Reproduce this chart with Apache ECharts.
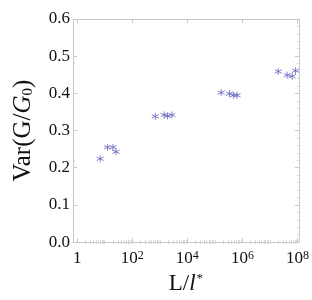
<!DOCTYPE html>
<html><head><meta charset="utf-8">
<script src="https://cdn.jsdelivr.net/npm/echarts@6/dist/echarts.min.js"></script>
<style>html,body{margin:0;padding:0;background:#fff}#c{width:312px;height:300px}</style>
</head><body><div id="c"></div>
<script>
// L / l* values (ratio) and Var(G/G0)
const lengthRatio = [6.9, 12.6, 20, 25.6, 690, 1450, 1920, 2770, 1.7e5, 3.4e5, 4.8e5, 6.4e5, 2.0e7, 4.2e7, 6.4e7, 8.5e7];
const variance = [0.224, 0.255, 0.255, 0.243, 0.338, 0.342, 0.339, 0.342, 0.402, 0.399, 0.395, 0.395, 0.459, 0.449, 0.446, 0.461];
const xTickExponents = [0, 2, 4, 6, 8];
const yTicks = [0.0, 0.1, 0.2, 0.3, 0.4, 0.5, 0.6];

const minorX = [];
for (let n = 0; n < 8; n++) for (let k = 2; k <= 9; k++) minorX.push(Math.log10(k * Math.pow(10, n)));
const oddX = [1, 3, 5, 7];

const font = 'Liberation Serif';
const axisColor = '#c8c8c8';
const minorColor = '#d8d8d8';
const data = lengthRatio.map((v, i) => [Math.log10(v), variance[i]]);
const star = 'path://M0,-5L0,5M-4.33,-2.5L4.33,2.5M-4.33,2.5L4.33,-2.5';

const baseX = {
  type: 'value', min: -0.15, max: 8.05, splitLine: {show: false},
  axisLine: {show: true, onZero: false, lineStyle: {color: axisColor, width: 1}}
};
const baseY = {
  type: 'value', min: 0, max: 0.6, interval: 0.1, splitLine: {show: false},
  axisLine: {show: true, onZero: false, lineStyle: {color: axisColor, width: 1}},
  axisTick: {inside: true, length: 4, lineStyle: {color: axisColor}},
  minorTick: {show: true, splitNumber: 5, length: 2, lineStyle: {color: minorColor}}
};

const chart = echarts.init(document.getElementById('c'), null, {renderer: 'canvas'});
chart.setOption({
  animation: false,
  grid: {left: 73, right: 13, top: 19, bottom: 56},
  xAxis: [
    Object.assign({}, baseX, {
      position: 'bottom',
      name: '{l|L/}{i|l}{s|*}', nameLocation: 'middle', nameGap: 23,
      nameTextStyle: {rich: {
        l: {fontFamily: font, fontSize: 23, color: '#111', verticalAlign: 'bottom'},
        i: {fontFamily: font, fontSize: 23, fontStyle: 'italic', color: '#111', verticalAlign: 'bottom'},
        s: {fontFamily: font, fontSize: 13, color: '#111', verticalAlign: 'top', padding: [0, 0, 0, 1]}
      }},
      axisTick: {inside: true, length: 4, customValues: xTickExponents, lineStyle: {color: axisColor}},
      axisLabel: {
        customValues: xTickExponents, margin: 8,
        formatter: v => v === 0 ? '{b|1}' : '{b|10}{s|' + v + '}',
        rich: {
          b: {fontFamily: font, fontSize: 17, color: '#111', verticalAlign: 'bottom'},
          s: {fontFamily: font, fontSize: 12, color: '#111', verticalAlign: 'top'}
        }
      }
    }),
    Object.assign({}, baseX, {
      position: 'bottom', axisLine: {show: false}, axisLabel: {show: false},
      axisTick: {inside: true, length: 2, customValues: minorX.concat(oddX), lineStyle: {color: minorColor}}
    }),
    Object.assign({}, baseX, {
      position: 'top', axisLabel: {show: false},
      axisTick: {inside: true, length: 4, customValues: xTickExponents, lineStyle: {color: axisColor}}
    }),
    Object.assign({}, baseX, {
      position: 'top', axisLine: {show: false}, axisLabel: {show: false},
      axisTick: {inside: true, length: 2, customValues: minorX.concat(oddX), lineStyle: {color: minorColor}}
    })
  ],
  yAxis: [
    Object.assign({}, baseY, {
      position: 'left',
      name: '{n|Var(G/}{i|G}{s|0}{n|)}', nameLocation: 'middle', nameGap: 37,
      nameTextStyle: {rich: {
        n: {fontFamily: font, fontSize: 25, color: '#111', verticalAlign: 'top'},
        i: {fontFamily: font, fontSize: 25, fontStyle: 'italic', color: '#111', verticalAlign: 'top'},
        s: {fontFamily: font, fontSize: 15, color: '#111', verticalAlign: 'bottom'}
      }},
      axisLabel: {margin: 3, fontFamily: font, fontSize: 17, color: '#111',
        formatter: v => v.toFixed(1)}
    }),
    Object.assign({}, baseY, {position: 'right', axisLabel: {show: false}})
  ],
  series: [{
    type: 'scatter', xAxisIndex: 0, yAxisIndex: 0,
    symbol: star, symbolSize: 7,
    itemStyle: {color: 'rgba(0,0,0,0)', borderColor: '#6464c0', borderWidth: 1},
    data: data
  }]
});
</script></body></html>
